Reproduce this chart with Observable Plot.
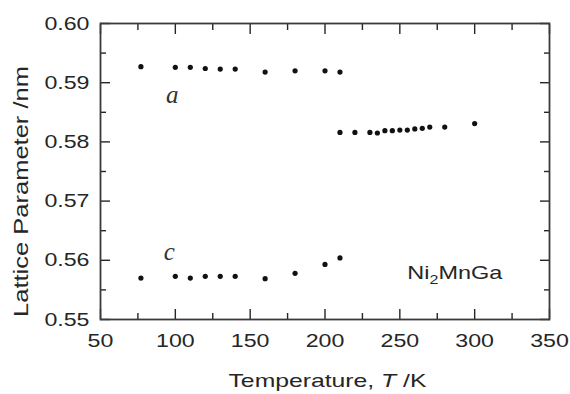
<!DOCTYPE html>
<html><head><meta charset="utf-8">
<script src="https://cdn.jsdelivr.net/npm/d3@7"></script>
<script src="https://cdn.jsdelivr.net/npm/@observablehq/plot@0.6"></script>
<style>
body{margin:0;background:#fff;}
#chart svg{display:block;}
</style>
</head><body><div id="chart"></div>
<script>
// Martensite (tetragonal) phase
const tempsLow = [77, 100, 110, 120, 130, 140, 160, 180, 200, 210];
const aLow     = [0.5927, 0.5926, 0.5926, 0.5924, 0.5923, 0.5923, 0.5918, 0.5920, 0.5920, 0.5918];
const cLow     = [0.5570, 0.5573, 0.5570, 0.5573, 0.5573, 0.5573, 0.5569, 0.5578, 0.5593, 0.5604];
// Austenite (cubic) phase
const tempsHigh = [210, 220, 230, 235, 240, 245, 250, 255, 260, 265, 270, 280, 300];
const aHigh     = [0.5816, 0.5816, 0.5816, 0.5815, 0.5819, 0.5819, 0.5820, 0.5820, 0.5822, 0.5823, 0.5825, 0.5825, 0.5831];

const xMajor = [50, 100, 150, 200, 250, 300, 350];
const xMinor = [75, 125, 175, 225, 275, 325];
const yMajor = [0.55, 0.56, 0.57, 0.58, 0.59, 0.60];
const yMinor = [0.555, 0.565, 0.575, 0.585, 0.595];

const letterLabels = ["a", "c"];
const letterT = [98, 96];
const letterV = [0.5879, 0.5614];
const compoundLabel = ["Ni2MnGa"];
const compoundT = [255];
const compoundV = [0.5579];
const xTitle = ["Temperature, T /K"];
const yTitle = ["Lattice Parameter /nm"];

const points = [
  ...tempsLow.map((t, i) => ({T: t, v: aLow[i]})),
  ...tempsLow.map((t, i) => ({T: t, v: cLow[i]})),
  ...tempsHigh.map((t, i) => ({T: t, v: aHigh[i]}))
];
const letters = letterLabels.map((s, i) => ({s, T: letterT[i], v: letterV[i]}));
const compound = compoundLabel.map((s, i) => ({s, T: compoundT[i], v: compoundV[i]}));

const ink = "#262626";
const blank = () => "";

const plot = Plot.plot({
  width: 570,
  height: 394,
  marginLeft: 100,
  marginRight: 21,
  marginTop: 23,
  marginBottom: 75,
  style: {background: "#fff", color: ink, fontFamily: "'Liberation Sans', Arial, sans-serif"},
  x: {domain: [50, 350]},
  y: {domain: [0.55, 0.60]},
  marks: [
    // inward ticks on all four sides
    Plot.axisX({anchor: "bottom", ticks: xMajor, tickSize: -10, tickFormat: blank, label: null, stroke: ink, strokeWidth: 1.4}),
    Plot.axisX({anchor: "bottom", ticks: xMinor, tickSize: -6, tickFormat: blank, label: null, stroke: ink, strokeWidth: 1.4}),
    Plot.axisX({anchor: "top", ticks: xMajor, tickSize: -10, tickFormat: blank, label: null, stroke: ink, strokeWidth: 1.4}),
    Plot.axisX({anchor: "top", ticks: xMinor, tickSize: -6, tickFormat: blank, label: null, stroke: ink, strokeWidth: 1.4}),
    Plot.axisY({anchor: "left", ticks: yMajor, tickSize: -10, tickFormat: blank, label: null, stroke: ink, strokeWidth: 1.4}),
    Plot.axisY({anchor: "left", ticks: yMinor, tickSize: -6, tickFormat: blank, label: null, stroke: ink, strokeWidth: 1.4}),
    Plot.axisY({anchor: "right", ticks: yMajor, tickSize: -10, tickFormat: blank, label: null, stroke: ink, strokeWidth: 1.4}),
    Plot.axisY({anchor: "right", ticks: yMinor, tickSize: -6, tickFormat: blank, label: null, stroke: ink, strokeWidth: 1.4}),
    // tick labels
    Plot.axisX({anchor: "bottom", ticks: xMajor, tickSize: 0, tickPadding: 14, label: null, fontSize: 19, tickFormat: d3.format("d"), fill: ink}),
    Plot.axisY({anchor: "left", ticks: yMajor, tickSize: 0, tickPadding: 11, label: null, fontSize: 19, tickFormat: d3.format(".2f"), fill: ink}),
    Plot.frame({stroke: "#3a3a3a", strokeWidth: 1.8}),
    Plot.dot(points, {x: "T", y: "v", r: 2.6, fill: "#111", stroke: "none"}),
    Plot.text(letters, {x: "T", y: "v", text: "s", fontSize: 25, fontStyle: "italic",
      fontFamily: "'Liberation Serif', 'Times New Roman', serif", fill: "#333", textAnchor: "middle", lineAnchor: "middle"}),
    Plot.text(compound, {x: "T", y: "v", text: "s", fontSize: 19, fill: ink, textAnchor: "start", lineAnchor: "middle"}),
    Plot.text(xTitle, {frameAnchor: "bottom", dx: 2.5, dy: 61, fontSize: 19, fill: ink, lineAnchor: "middle", textAnchor: "middle"}),
    Plot.text(yTitle, {frameAnchor: "left", dx: -79, dy: 20, rotate: -90, fontSize: 19.5, fill: ink, lineAnchor: "middle", textAnchor: "middle"})
  ]
});

document.getElementById("chart").appendChild(plot);
const svg = d3.select(plot);

// stretch sans text horizontally along its reading direction, as in the reference
function stretch(sel, factor, fixed) {
  sel.each(function() {
    const len = fixed || this.getComputedTextLength() * factor;
    if (len > 0) {
      this.setAttribute("textLength", len);
      this.setAttribute("lengthAdjust", "spacingAndGlyphs");
    }
  });
}

// subscript in the compound name and italic T in the x title
svg.selectAll("text").each(function() {
  const t = d3.select(this);
  const s = t.text();
  if (s === "Ni2MnGa") {
    t.text(null);
    t.append("tspan").text("Ni");
    t.append("tspan").attr("font-size", 13).attr("dy", 5).text("2");
    t.append("tspan").attr("dy", -5).text("MnGa");
    stretch(t, 1, 95);
  } else if (s === "Temperature, T /K") {
    t.text(null);
    t.append("tspan").text("Temperature, ");
    t.append("tspan").attr("font-style", "italic").text("T");
    t.append("tspan").text(" /K");
    stretch(t, 1, 198);
  } else if (s === "Lattice Parameter /nm") {
    stretch(t, 1, 251);
  } else if (/^[0-9.]+$/.test(s)) {
    stretch(t, 1.22);
  }
});
</script>
</body></html>
